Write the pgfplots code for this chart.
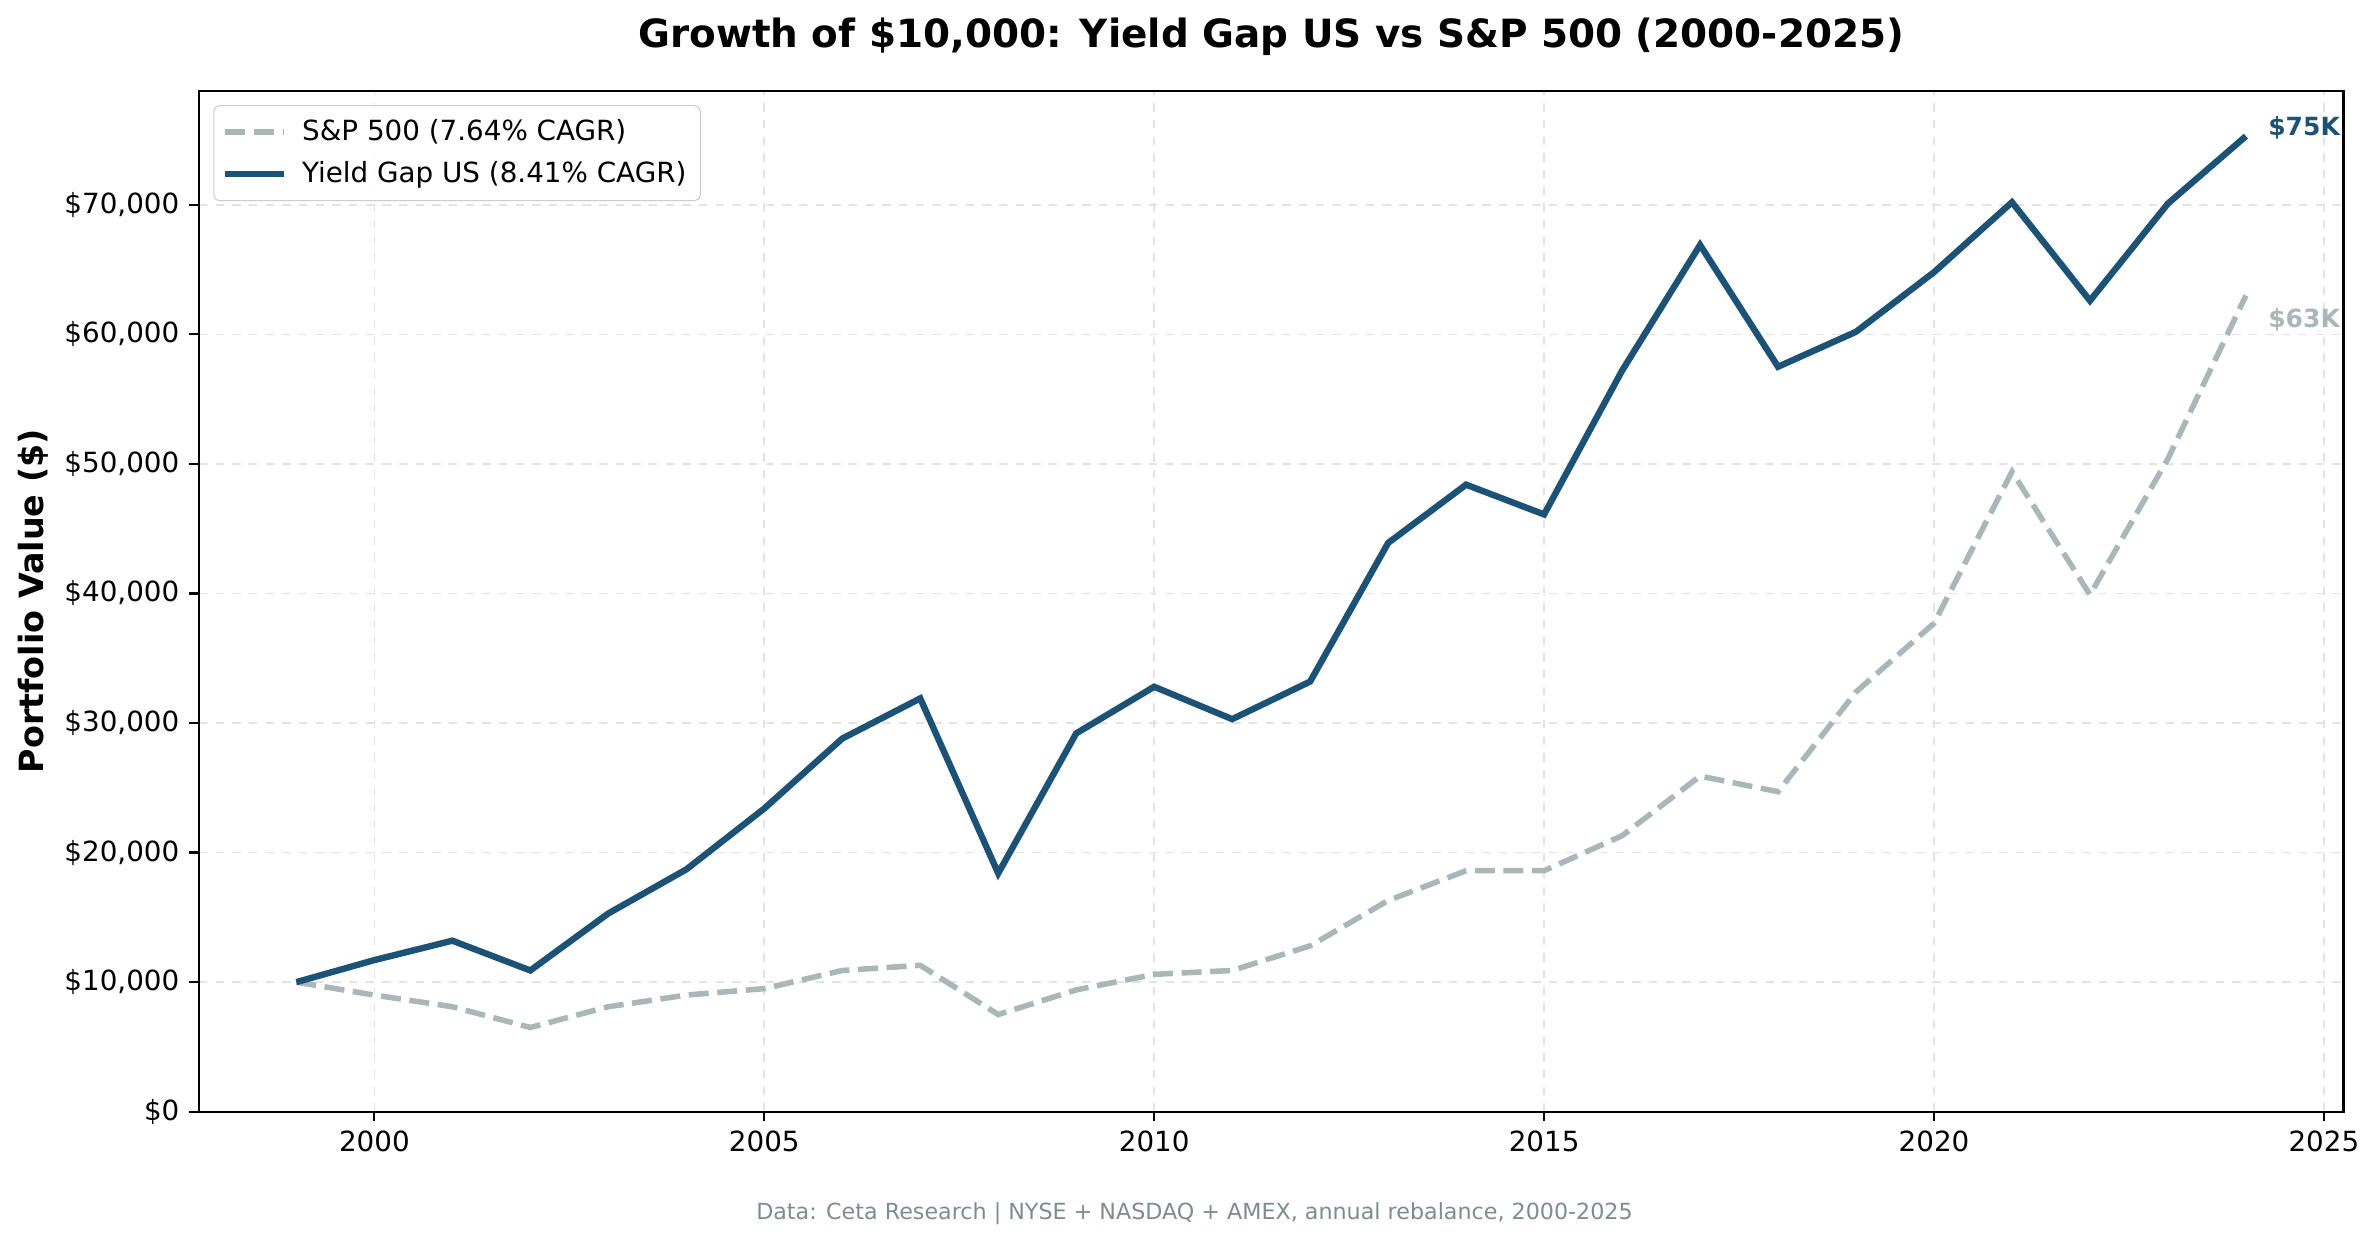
\documentclass[border=0pt]{standalone}
\usepackage{pgfplots}
\pgfplotsset{compat=1.18}
\usepackage{fontspec}
\setmainfont{DejaVu Sans}

\definecolor{ygblue}{HTML}{1B5276}
\definecolor{spgray}{HTML}{AAB7B8}
\definecolor{gridc}{HTML}{E3E3E3}
\definecolor{notegray}{HTML}{7F8C8D}

% Yield Gap US portfolio value
\pgfplotstableread{
year value
1999 10000
2000 11700
2001 13200
2002 10900
2003 15300
2004 18700
2005 23400
2006 28800
2007 31900
2008 18400
2009 29200
2010 32800
2011 30300
2012 33200
2013 43900
2014 48400
2015 46100
2016 57200
2017 66900
2018 57500
2019 60200
2020 64800
2021 70200
2022 62600
2023 70100
2024 75300
}\yieldgap

% S&P 500 portfolio value
\pgfplotstableread{
year value
1999 10000
2000 9000
2001 8100
2002 6500
2003 8100
2004 9000
2005 9500
2006 10900
2007 11300
2008 7500
2009 9400
2010 10600
2011 10900
2012 12800
2013 16300
2014 18600
2015 18600
2016 21300
2017 25900
2018 24700
2019 32400
2020 37700
2021 49400
2022 39900
2023 50400
2024 63000
}\spx

\begin{document}
\begin{tikzpicture}
\begin{axis}[
  at={(71.6pt,45.8pt)}, anchor=south west,
  scale only axis, width=772pt, height=367.5pt,
  xmin=1997.75, xmax=2025.25, ymin=0, ymax=78800,
  xtick={2000,2005,2010,2015,2020,2025},
  xticklabels={2000,2005,2010,2015,2020,2025},
  ytick={0,10000,20000,30000,40000,50000,60000,70000},
  yticklabels={{\$0},{\$10,000},{\$20,000},{\$30,000},{\$40,000},{\$50,000},{\$60,000},{\$70,000}},
  scaled y ticks=false,
  tick label style={font=\fontsize{10}{12}\selectfont},
  tick align=outside, tick pos=left, major tick length=3.5pt,
  every tick/.style={black, line width=0.8pt},
  axis line style={line width=0.8pt},
  grid=major, grid style={gridc, dashed, line width=0.6pt},
  ylabel={\bfseries Portfolio Value (\$)},
  ylabel style={font=\fontsize{12}{14}\selectfont, at={(axis description cs:-0.0773,0.5)}, anchor=center},
  title={\bfseries Growth of \$10,000: Yield Gap US vs S\&P 500 (2000-2025)},
  every axis title shift=0pt,
  title style={font=\fontsize{14}{16}\selectfont, at={(axis description cs:0.5,1)}, anchor=center, yshift=19.5pt},
  legend style={at={(0.0067,0.986)}, anchor=north west, draw=black!20, rounded corners=2pt,
    font=\fontsize{10}{12}\selectfont, inner sep=3pt, row sep=2pt, fill=white, fill opacity=0.8, text opacity=1},
  legend cell align=left,
  legend image code/.code={\draw[#1] (0pt,0pt) -- (21pt,0pt); \path (24.5pt,0pt);},
]
\addplot[spgray, line width=2pt, dash pattern=on 7.2pt off 3.1pt] table[x=year, y=value] {\spx};
\addlegendentry{S\&P 500 (7.64\% CAGR)}
\addplot[ygblue, line width=2.3pt] table[x=year, y=value] {\yieldgap};
\addlegendentry{Yield Gap US (8.41\% CAGR)}
\node[anchor=west, inner sep=0pt, text=ygblue, font=\bfseries\fontsize{9}{11}\selectfont] at (axis cs:2024.28,75970) {\$75K};
\node[anchor=west, inner sep=0pt, text=spgray, font=\bfseries\fontsize{9}{11}\selectfont] at (axis cs:2024.28,61100) {\$63K};
\end{axis}
\node[text=notegray, font=\fontsize{8}{10}\selectfont] at (430pt,9pt) {Data: Ceta Research | NYSE + NASDAQ + AMEX, annual rebalance, 2000-2025};
\pgfresetboundingbox
\path[use as bounding box] (0,0) rectangle (855.7pt,446pt);
\end{tikzpicture}
\end{document}
